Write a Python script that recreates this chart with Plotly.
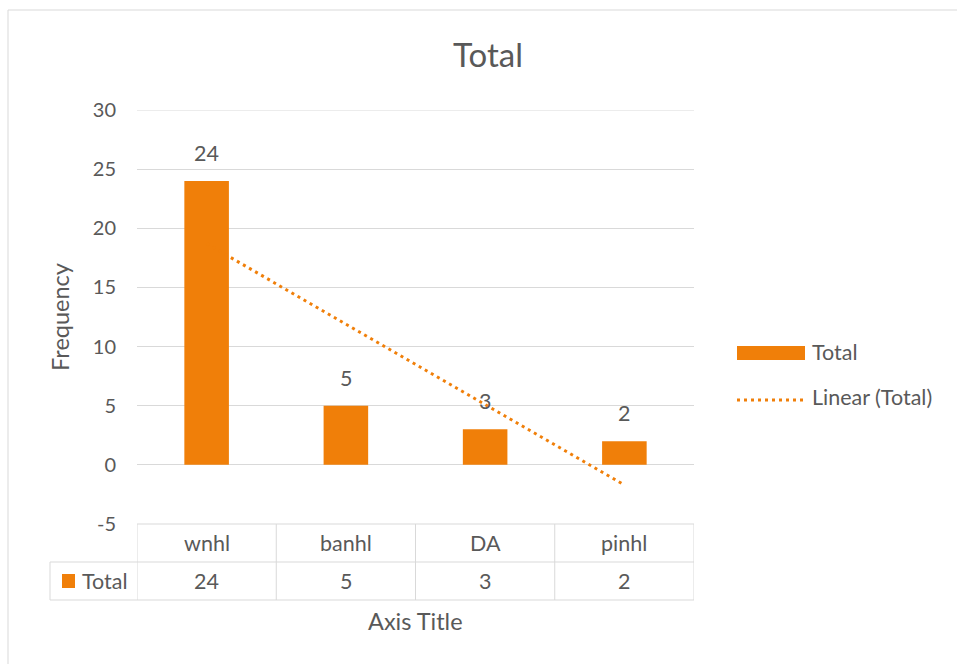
import numpy as np
import plotly.graph_objects as go

# Data
categories = ["wnhl", "banhl", "DA", "pinhl"]
totals = [24, 5, 3, 2]
y_ticks = [-5, 0, 5, 10, 15, 20, 25, 30]
y_tick_text = ["-5", "0", "5", "10", "15", "20", "25", "30"]
series_name = "Total"
trend_name = "Linear (Total)"

ORANGE = "#F07F09"
TEXT = "#595959"
GRID = "#D9D9D9"
FONT = "Lato"
SMALL = 21.5
AXIS_TITLE = 23.5

W, H = 957, 664
L, R, T, B = 137, 694, 110, 524  # plot area edges in pixels


def px_x(p):
    return (p - L) / (R - L)


def px_y(p):
    return (B - p) / (B - T)


# Least-squares linear trend over category index
idx = np.arange(1, len(totals) + 1)
slope, intercept = np.polyfit(idx, totals, 1)
trend = slope * idx + intercept

DOT = "3px,4px"

fig = go.Figure()
fig.add_trace(go.Scatter(
    x=categories, y=trend, mode="lines", name=trend_name, showlegend=False,
    line=dict(color=ORANGE, width=3, dash=DOT), hoverinfo="skip",
))
fig.add_trace(go.Bar(
    x=categories, y=totals, name=series_name, showlegend=False,
    marker=dict(color=ORANGE, line=dict(width=0)),
))

shapes = []
annotations = []


def label(x, y, text, xref="paper", yref="paper", size=SMALL, xanchor="center", **kw):
    annotations.append(dict(x=x, y=y, xref=xref, yref=yref, text=text, showarrow=False,
                            xanchor=xanchor, yanchor=kw.pop("yanchor", "middle"),
                            font=dict(size=size, color=TEXT, family=FONT), **kw))


# Top gridline at the end of the range
shapes.append(dict(type="line", xref="paper", yref="y", x0=0, x1=1, y0=y_ticks[-1],
                   y1=y_ticks[-1], line=dict(color=GRID, width=1), layer="below"))

# Data labels above bars
for c, v in zip(categories, totals):
    label(c, v, str(v), xref="x", yref="y", yanchor="bottom", yshift=13)

# Data table below the plot
line_style = dict(color=GRID, width=1)
row1_bottom = px_y(562)
row2_bottom = px_y(600)
for i in range(len(categories) + 1):
    shapes.append(dict(type="line", xref="x", yref="paper",
                       x0=i - 0.5, x1=i - 0.5, y0=0, y1=row2_bottom, line=line_style))
shapes.append(dict(type="line", xref="paper", yref="paper",
                   x0=0, x1=1, y0=0, y1=0, line=line_style))
for yb in (row1_bottom, row2_bottom):
    shapes.append(dict(type="line", xref="paper", yref="paper",
                       x0=px_x(50), x1=1, y0=yb, y1=yb, line=line_style))
shapes.append(dict(type="line", xref="paper", yref="paper",
                   x0=px_x(50), x1=px_x(50), y0=row1_bottom, y1=row2_bottom, line=line_style))

for c, v in zip(categories, totals):
    label(c, px_y(543), c, xref="x")
    label(c, px_y(581), str(v), xref="x")

# Series key inside the table
shapes.append(dict(type="rect", xref="paper", yref="paper",
                   x0=px_x(62), x1=px_x(75), y0=px_y(588), y1=px_y(574),
                   fillcolor=ORANGE, line=dict(width=0)))
label(px_x(80), px_y(581), series_name, xanchor="left")

# Legend at the right
shapes.append(dict(type="rect", xref="paper", yref="paper",
                   x0=px_x(737), x1=px_x(805), y0=px_y(360), y1=px_y(346),
                   fillcolor=ORANGE, line=dict(width=0)))
label(px_x(810), px_y(352), series_name, xanchor="left")
shapes.append(dict(type="line", xref="paper", yref="paper",
                   x0=px_x(737), x1=px_x(805), y0=px_y(400), y1=px_y(400),
                   line=dict(color=ORANGE, width=3, dash=DOT)))
label(px_x(810), px_y(397), trend_name, xanchor="left")

# Horizontal axis title
label(0.5, px_y(621), "Axis Title", size=AXIS_TITLE)

# Chart border
shapes.append(dict(type="rect", xref="paper", yref="paper",
                   x0=px_x(8), x1=px_x(970), y0=px_y(680), y1=px_y(10),
                   line=line_style, fillcolor="rgba(0,0,0,0)", layer="below"))

fig.update_layout(
    width=W, height=H, autosize=False,
    margin=dict(l=L, r=W - R, t=T, b=H - B),
    paper_bgcolor="white", plot_bgcolor="white",
    font=dict(family=FONT, color=TEXT),
    title=dict(text="Total", x=488 / W, xref="container", xanchor="center",
               y=1 - 55 / H, yref="container", yanchor="middle",
               font=dict(size=33, color=TEXT, family=FONT)),
    bargap=0.68,
    showlegend=False,
    shapes=shapes,
    annotations=annotations,
    xaxis=dict(type="category", range=[-0.5, len(categories) - 0.5],
               showticklabels=False, showgrid=False, zeroline=False, showline=False),
    yaxis=dict(range=[-5, 30], tickvals=y_ticks, ticktext=y_tick_text,
               showgrid=True, gridcolor=GRID, gridwidth=1,
               zeroline=False, showline=False, ticks="", ticklabelstandoff=20,
               tickfont=dict(size=20, color=TEXT),
               title=dict(text="Frequency", standoff=16,
                          font=dict(size=AXIS_TITLE, color=TEXT))),
)

fig.write_html("out.html")
